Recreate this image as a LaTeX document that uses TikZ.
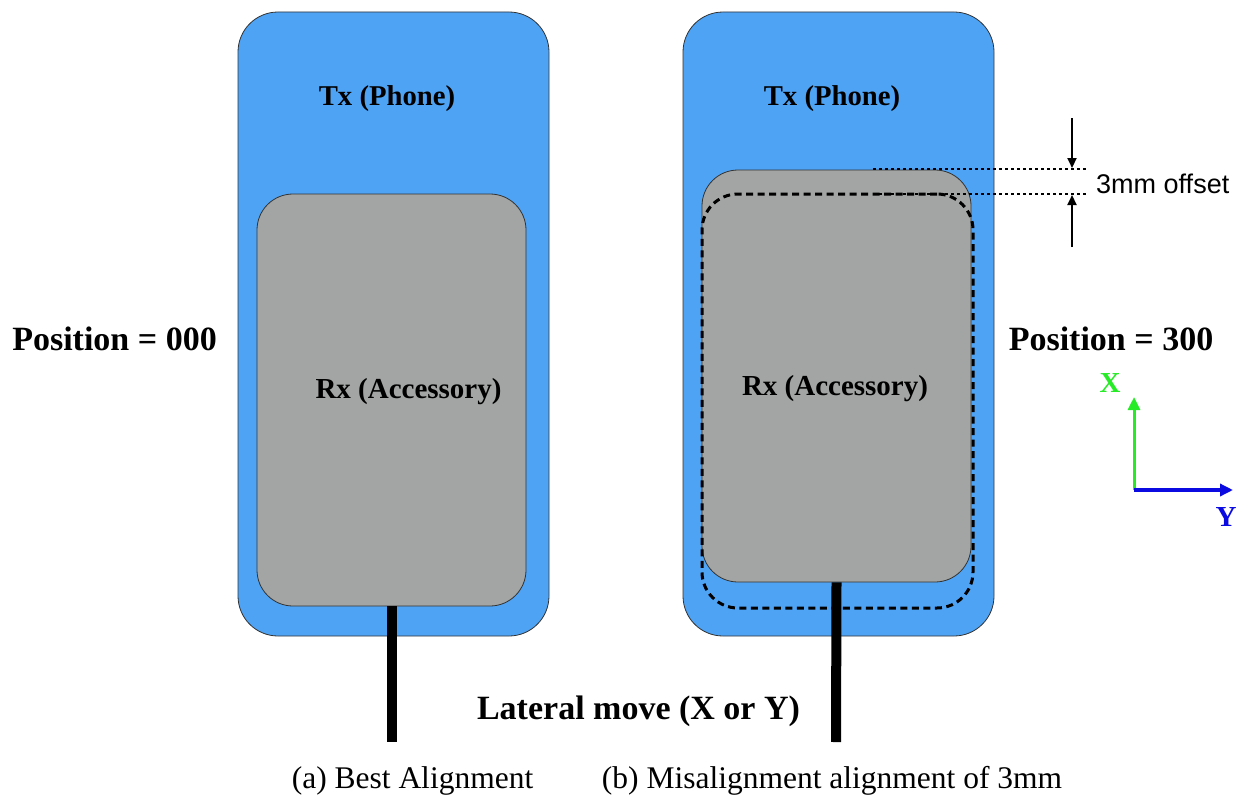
\documentclass[tikz,border=0pt]{standalone}
\usepackage{fontspec}
\setmainfont{Liberation Serif}
\setsansfont{Liberation Sans}
\usetikzlibrary{arrows.meta}
\definecolor{phoneblue}{RGB}{78,163,245}
\definecolor{accgray}{RGB}{162,165,163}
\definecolor{axgreen}{RGB}{40,235,40}
\definecolor{axblue}{RGB}{10,10,225}
\tikzset{
  phone/.style={draw=black!80, line width=0.8pt, fill=phoneblue, rounded corners=40pt, minimum width=311pt, minimum height=624pt, inner sep=0pt},
  acc/.style={draw=black!80, line width=0.8pt, fill=accgray, rounded corners=36pt, minimum width=269pt, minimum height=412pt, inner sep=0pt},
  ghost/.style={draw=black, line width=3pt, dash pattern=on 7pt off 4.5pt, rounded corners=36pt, minimum width=271pt, minimum height=414pt, inner sep=0pt},
  cable/.style={line width=10pt},
  guide/.style={line width=1.3pt, dash pattern=on 3pt off 3pt},
  lbl/.style={font=\bfseries\fontsize{28.7}{33}\selectfont, inner sep=0pt},
  lblr/.style={font=\bfseries\fontsize{29}{33}\selectfont, inner sep=0pt},
  big/.style={font=\bfseries\fontsize{34}{38}\selectfont, inner sep=0pt},
  captext/.style={font=\fontsize{31.5}{36}\selectfont, inner sep=0pt},
  dim/.style={line width=2pt, -{Triangle[length=10pt,width=9pt]}},
}
\begin{document}
\begin{tikzpicture}[x=1pt,y=-1pt]
\useasboundingbox (0,0) rectangle (1244,800);
% left
\node[phone] (txa) at (393.5,324) {};
\node[acc] (rxa) at (391.5,400) {};
\node[lbl] (txal) at (387,99) {Tx (Phone)};
\node[lblr] (rxal) at (408.5,392) {Rx (Accessory)};
\coordinate (cablea) at (391.5,742);
\draw[cable] (rxa.south) -- (cablea);
% right
\node[phone] (txb) at (838.5,324) {};
\node[acc] (rxb) at (836.5,376) {};
\node[ghost] (ghb) at (837.5,401) {};
\node[lbl] (txbl) at (832,99) {Tx (Phone)};
\node[lblr] (rxbl) at (835,389) {Rx (Accessory)};
\coordinate (cableb) at (836,742);
\draw[cable] (rxb.south) -- (cableb);
% offset guides
\coordinate (g1a) at (873,169);
\coordinate (g1b) at (1088,169);
\coordinate (g2a) at (873,194);
\coordinate (g2b) at (1088,194);
\draw[guide] (g1a) -- (g1b);
\draw[guide] (g2a) -- (g2b);
\coordinate (a1s) at (1072,118);
\coordinate (a1e) at (1072,168);
\coordinate (a2s) at (1072,247);
\coordinate (a2e) at (1072,195);
\draw[dim] (a1s) -- (a1e);
\draw[dim] (a2s) -- (a2e);
\node[font=\sffamily\fontsize{27}{32}\selectfont, inner sep=0pt, anchor=west] (off) at (1096,184) {3mm offset};
% positions
\node[big] (posa) at (114.5,339) {Position = 000};
\node[big] (posb) at (1111,339) {Position = 300};
\node[big] (lat) at (638.5,711) {Lateral move (X or Y)};
% axes
\coordinate (o) at (1134,490);
\coordinate (xe) at (1134,397);
\coordinate (ye) at (1233,490);
\draw[axgreen, line width=3pt, -{Triangle[length=13pt,width=12pt]}] (o) -- (xe);
\draw[axblue, line width=3.5pt, -{Triangle[length=13pt,width=12pt]}] (o) -- (ye);
\node[font=\bfseries\fontsize{29}{33}\selectfont, text=axgreen, inner sep=0pt] (xl) at (1110,383) {X};
\node[font=\bfseries\fontsize{29}{33}\selectfont, text=axblue, inner sep=0pt] (yl) at (1226,517) {Y};
% captions
\node[captext] (capa) at (412.5,781) {(a) Best Alignment};
\node[captext] (capb) at (832,781) {(b) Misalignment alignment of 3mm};
\end{tikzpicture}
\end{document}
